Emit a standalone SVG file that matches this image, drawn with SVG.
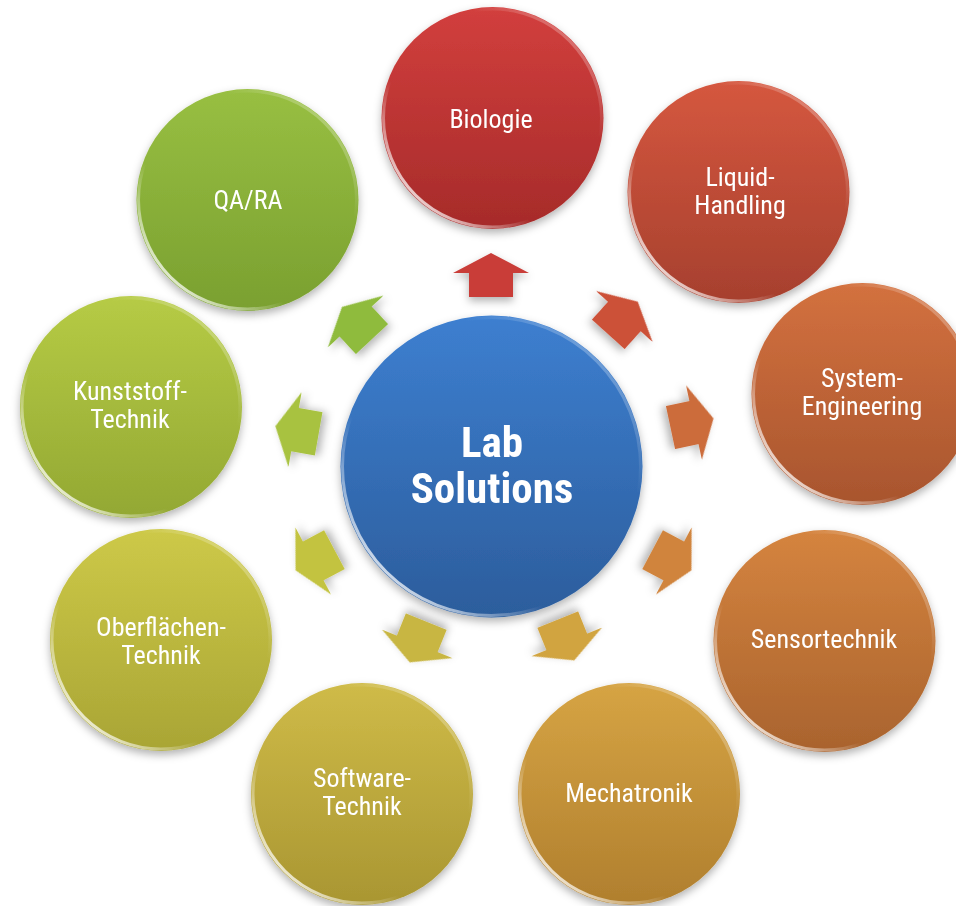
<svg xmlns="http://www.w3.org/2000/svg" width="956" height="906" viewBox="0 0 956 906">
<style>
.lbl{font-family:"Liberation Sans Narrow","Roboto Condensed","Liberation Sans",sans-serif;font-size:26px;fill:#fff;text-anchor:middle}
.ctr{font-family:"Liberation Sans Narrow","Roboto Condensed","Liberation Sans",sans-serif;font-size:43px;font-weight:bold;fill:#fff;text-anchor:middle}
.rim{fill:none;stroke:url(#rim);stroke-width:3}
.node{filter:url(#sh)}
</style>
<defs>
<filter id="sh" x="-20%" y="-20%" width="140%" height="150%">
<feDropShadow dx="0" dy="4" stdDeviation="4" flood-color="#000" flood-opacity="0.3"/>
</filter>
<linearGradient id="rim" x1="0" y1="1" x2="1" y2="0">
<stop offset="0.1" stop-color="#fff" stop-opacity="0.9"/>
<stop offset="0.35" stop-color="#fff" stop-opacity="0"/>
<stop offset="0.7" stop-color="#fff" stop-opacity="0"/>
<stop offset="1" stop-color="#fff" stop-opacity="0.5"/>
</linearGradient>
<linearGradient id="gC" x1="0" y1="0" x2="0" y2="1"><stop offset="0" stop-color="#3d7fd0"/><stop offset="1" stop-color="#2c5d9c"/></linearGradient>
<linearGradient id="g1" x1="0" y1="0" x2="0" y2="1"><stop offset="0" stop-color="#d23f3d"/><stop offset="1" stop-color="#a62b2a"/></linearGradient>
<linearGradient id="g2" x1="0" y1="0" x2="0" y2="1"><stop offset="0" stop-color="#d5573f"/><stop offset="1" stop-color="#a6402e"/></linearGradient>
<linearGradient id="g3" x1="0" y1="0" x2="0" y2="1"><stop offset="0" stop-color="#d3713f"/><stop offset="1" stop-color="#a8552e"/></linearGradient>
<linearGradient id="g4" x1="0" y1="0" x2="0" y2="1"><stop offset="0" stop-color="#d5843f"/><stop offset="1" stop-color="#a9632e"/></linearGradient>
<linearGradient id="g5" x1="0" y1="0" x2="0" y2="1"><stop offset="0" stop-color="#d6a444"/><stop offset="1" stop-color="#b07f2e"/></linearGradient>
<linearGradient id="g6" x1="0" y1="0" x2="0" y2="1"><stop offset="0" stop-color="#cfbb48"/><stop offset="1" stop-color="#a99632"/></linearGradient>
<linearGradient id="g7" x1="0" y1="0" x2="0" y2="1"><stop offset="0" stop-color="#cdc948"/><stop offset="1" stop-color="#a9a535"/></linearGradient>
<linearGradient id="g8" x1="0" y1="0" x2="0" y2="1"><stop offset="0" stop-color="#b6cb45"/><stop offset="1" stop-color="#93a833"/></linearGradient>
<linearGradient id="g9" x1="0" y1="0" x2="0" y2="1"><stop offset="0" stop-color="#98bf42"/><stop offset="1" stop-color="#7aa030"/></linearGradient>
<path id="arr" d="M0,-22 L38,-2 L22,-2 L22,22 L-22,22 L-22,-2 L-38,-2 Z"/>
</defs>

<g id="connectors">
<use href="#arr" fill="#c93d39" filter="url(#sh)" transform="translate(491,275) rotate(0)"/>
<use href="#arr" fill="#cc5137" filter="url(#sh)" transform="translate(623,318) rotate(42)"/>
<use href="#arr" fill="#cc6c3a" filter="url(#sh)" transform="translate(692,423) rotate(78)"/>
<use href="#arr" fill="#d0843c" filter="url(#sh)" transform="translate(672,560) rotate(118)"/>
<use href="#arr" fill="#d1a440" filter="url(#sh)" transform="translate(566,640) rotate(158)"/>
<use href="#arr" fill="#c8b642" filter="url(#sh)" transform="translate(418,642) rotate(202)"/>
<use href="#arr" fill="#c3c33f" filter="url(#sh)" transform="translate(315,560) rotate(242)"/>
<use href="#arr" fill="#a8c23f" filter="url(#sh)" transform="translate(297,430) rotate(280)"/>
<use href="#arr" fill="#8fbb3d" filter="url(#sh)" transform="translate(357,323) rotate(317)"/>
</g>

<g id="center" class="node">
<circle cx="491.5" cy="466.5" r="151" fill="url(#gC)"/>
<circle cx="491.5" cy="466.5" r="149" class="rim"/>
<text class="ctr" x="492" y="457">Lab</text>
<text class="ctr" x="492" y="503">Solutions</text>
</g>

<g id="biologie" class="node">
<circle cx="492.5" cy="118" r="111" fill="url(#g1)"/>
<circle cx="492.5" cy="118" r="109" class="rim"/>
<text class="lbl" x="491" y="128">Biologie</text>
</g>

<g id="liquid" class="node">
<circle cx="738.5" cy="192" r="111" fill="url(#g2)"/>
<circle cx="738.5" cy="192" r="109" class="rim"/>
<text class="lbl" x="740" y="186">Liquid-</text>
<text class="lbl" x="740" y="214">Handling</text>
</g>

<g id="system" class="node">
<circle cx="862.5" cy="394" r="111" fill="url(#g3)"/>
<circle cx="862.5" cy="394" r="109" class="rim"/>
<text class="lbl" x="862" y="387">System-</text>
<text class="lbl" x="862" y="415">Engineering</text>
</g>

<g id="sensor" class="node">
<circle cx="824.5" cy="641" r="111" fill="url(#g4)"/>
<circle cx="824.5" cy="641" r="109" class="rim"/>
<text class="lbl" x="824" y="648">Sensortechnik</text>
</g>

<g id="mechatronik" class="node">
<circle cx="629" cy="794" r="111" fill="url(#g5)"/>
<circle cx="629" cy="794" r="109" class="rim"/>
<text class="lbl" x="629" y="802">Mechatronik</text>
</g>

<g id="software" class="node">
<circle cx="362" cy="794" r="111" fill="url(#g6)"/>
<circle cx="362" cy="794" r="109" class="rim"/>
<text class="lbl" x="362" y="787">Software-</text>
<text class="lbl" x="362" y="815">Technik</text>
</g>

<g id="oberflaechen" class="node">
<circle cx="161" cy="640" r="111" fill="url(#g7)"/>
<circle cx="161" cy="640" r="109" class="rim"/>
<text class="lbl" x="161" y="636">Oberflächen-</text>
<text class="lbl" x="161" y="664">Technik</text>
</g>

<g id="kunststoff" class="node">
<circle cx="131" cy="407" r="111" fill="url(#g8)"/>
<circle cx="131" cy="407" r="109" class="rim"/>
<text class="lbl" x="130" y="400">Kunststoff-</text>
<text class="lbl" x="130" y="428">Technik</text>
</g>

<g id="qara" class="node">
<circle cx="247.5" cy="200" r="111" fill="url(#g9)"/>
<circle cx="247.5" cy="200" r="109" class="rim"/>
<text class="lbl" x="248" y="209">QA/RA</text>
</g>
</svg>
